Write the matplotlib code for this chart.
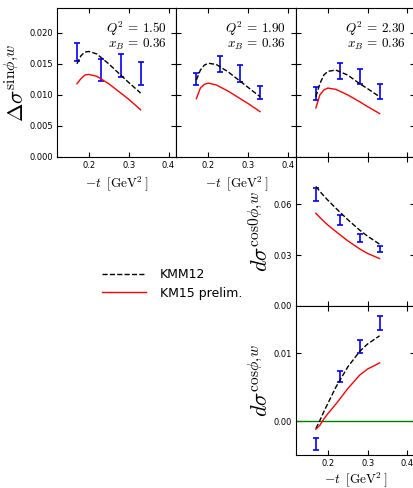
import numpy as np
import matplotlib
matplotlib.use('Agg')
import matplotlib.pyplot as plt
from matplotlib.ticker import MultipleLocator

plt.rcParams['mathtext.fontset'] = 'cm'
plt.rcParams['xtick.direction'] = 'in'
plt.rcParams['ytick.direction'] = 'in'
plt.rcParams['xtick.top'] = True
plt.rcParams['ytick.right'] = True
plt.rcParams['xtick.major.size'] = 3.5
plt.rcParams['ytick.major.size'] = 3.5
plt.rcParams['xtick.labelsize'] = 6
plt.rcParams['ytick.labelsize'] = 6

# measured points
t_data = [0.17, 0.23, 0.28, 0.33]
sin_data = [[0.0169, 0.0140, 0.0147, 0.0134],
            [0.0126, 0.0150, 0.0134, 0.0104],
            [0.0102, 0.0138, 0.0129, 0.0105]]
sin_err = [[0.0015, 0.00175, 0.00185, 0.00185],
           [0.0010, 0.0013, 0.0014, 0.0011],
           [0.0010, 0.0013, 0.0012, 0.0012]]
cos0_data = [0.0658, 0.0509, 0.0403, 0.0337]
cos0_err = [0.0038, 0.0029, 0.0024, 0.0020]
cos1_data = [-0.0034, 0.0066, 0.0110, 0.0145]
cos1_err = [0.0009, 0.0008, 0.0010, 0.0011]

Q2 = ['1.50', '1.90', '2.30']
xB = '0.36'

# model curves
t_mod = [0.17, 0.18, 0.19, 0.20, 0.22, 0.25, 0.28, 0.30, 0.33]
sin_kmm12 = [[0.0150, 0.0163, 0.0169, 0.0170, 0.0166, 0.0150, 0.0132, 0.0120, 0.0103],
             [0.0124, 0.0140, 0.0148, 0.0151, 0.0149, 0.0137, 0.0122, 0.0112, 0.0097],
             [0.0097, 0.0118, 0.0132, 0.0138, 0.0140, 0.0132, 0.0118, 0.0110, 0.0097]]
sin_km15 = [[0.0118, 0.0126, 0.0132, 0.0133, 0.0130, 0.0118, 0.0103, 0.0093, 0.0076],
            [0.0094, 0.0111, 0.0117, 0.0119, 0.0116, 0.0106, 0.0094, 0.0086, 0.0073],
            [0.0079, 0.0100, 0.0108, 0.0111, 0.0109, 0.0100, 0.0089, 0.0081, 0.0070]]
cos0_kmm12 = [0.0706, 0.0677, 0.0650, 0.0625, 0.0578, 0.0510, 0.0448, 0.0412, 0.0365]
cos0_km15 = [0.0548, 0.0523, 0.0500, 0.0478, 0.0440, 0.0385, 0.0337, 0.0310, 0.0280]
cos1_kmm12 = [-0.0011, 0.0001, 0.0014, 0.0026, 0.0050, 0.0080, 0.0103, 0.0114, 0.0126]
cos1_km15 = [-0.0012, -0.0006, 0.0003, 0.0011, 0.0025, 0.0048, 0.0068, 0.0077, 0.0086]

fig = plt.figure(figsize=(4.13, 4.88), dpi=100)

W, H = 0.2893, 0.3053
lefts = [0.138, 0.138 + W, 0.138 + 2 * W]
bottoms = [0.6783, 0.373, 0.0676]
xlab = r'$-t\;\;[\mathrm{GeV}^2\,]$'


def style(ax):
    ax.set_xlim(0.12, 0.42)
    ax.xaxis.set_major_locator(MultipleLocator(0.1))
    ax.tick_params(pad=3)


for i in range(3):
    ax = fig.add_axes([lefts[i], bottoms[0], W, H])
    style(ax)
    ax.errorbar(t_data, sin_data[i], yerr=sin_err[i], fmt='none', ecolor='b',
                elinewidth=1.2, capsize=2.5, capthick=1.2)
    ax.plot(t_mod, sin_kmm12[i], 'k--', lw=1, label='KMM12')
    ax.plot(t_mod, sin_km15[i], 'r-', lw=1, label='KM15 prelim.')
    ax.set_ylim(0, 0.024)
    ax.yaxis.set_major_locator(MultipleLocator(0.005))
    ax.text(0.92, 0.832, '$Q^2\\, =\\, %s$' % Q2[i], transform=ax.transAxes,
            ha='right', va='baseline', fontsize=9.5)
    ax.text(0.92, 0.732, '$x_B\\, =\\, %s$' % xB, transform=ax.transAxes,
            ha='right', va='baseline', fontsize=9.5)
    if i == 0:
        ax.set_ylabel(r'$\Delta\sigma^{\mathrm{sin}\phi{,}w}$', fontsize=16, labelpad=1)
        handles, labels = ax.get_legend_handles_labels()
    else:
        ax.tick_params(labelleft=False)
    if i < 2:
        ax.set_xlabel(xlab, fontsize=9.5, labelpad=2.5)
    else:
        ax.tick_params(labelbottom=False)

ax = fig.add_axes([lefts[2], bottoms[1], W, H])
style(ax)
ax.errorbar(t_data, cos0_data, yerr=cos0_err, fmt='none', ecolor='b',
            elinewidth=1.2, capsize=2.5, capthick=1.2)
ax.plot(t_mod, cos0_kmm12, 'k--', lw=1)
ax.plot(t_mod, cos0_km15, 'r-', lw=1)
ax.set_ylim(0, 0.088)
ax.yaxis.set_major_locator(MultipleLocator(0.03))
ax.tick_params(labelbottom=False)
ax.set_ylabel(r'$d\sigma^{\mathrm{cos}0\phi{,}w}$', fontsize=16, labelpad=1)

ax = fig.add_axes([lefts[2], bottoms[2], W, H])
style(ax)
ax.axhline(0, color='g', lw=1)
ax.errorbar(t_data, cos1_data, yerr=cos1_err, fmt='none', ecolor='b',
            elinewidth=1.2, capsize=2.5, capthick=1.2)
ax.plot(t_mod, cos1_kmm12, 'k--', lw=1)
ax.plot(t_mod, cos1_km15, 'r-', lw=1)
ax.set_ylim(-0.005, 0.017)
ax.yaxis.set_major_locator(MultipleLocator(0.01))
ax.set_ylabel(r'$d\sigma^{\mathrm{cos}\phi{,}w}$', fontsize=16, labelpad=1)
ax.set_xlabel(xlab, fontsize=9.5, labelpad=1.5)

fig.legend(handles, labels, loc='center left', bbox_to_anchor=(0.247, 0.418),
           frameon=False, fontsize=9, handlelength=3.5, handletextpad=1.1,
           labelspacing=0.45, borderpad=0, borderaxespad=0)

fig.savefig('out.png', dpi=100)
